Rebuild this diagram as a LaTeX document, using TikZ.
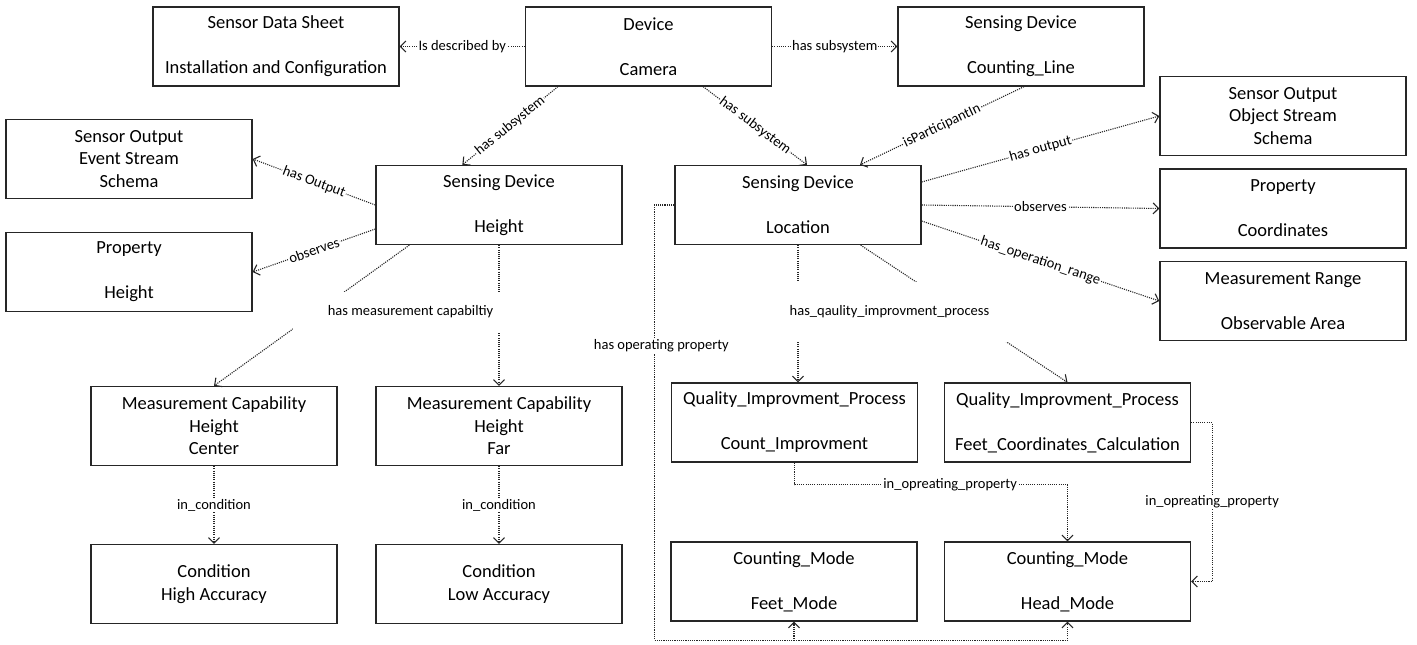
\documentclass[tikz,border=0pt]{standalone}
\usepackage{fontspec}
\setmainfont{Carlito}
\usetikzlibrary{arrows.meta}
\begin{document}
\begin{tikzpicture}[x=1pt,y=-1pt,
  box/.style={draw=black!85, line width=1.3pt, minimum width=246pt, minimum height=79pt, align=center, inner sep=0pt, font=\fontsize{18.5}{22.5}\selectfont},
  conn/.style={draw=black!85, line width=1.1pt, dash pattern=on 1.1pt off 1.1pt, -{Straight Barb[length=5.5pt,width=11pt]}},
  lbl/.style={fill=white, text=black, inner sep=1pt, font=\fontsize{14.5}{17}\selectfont}]
\useasboundingbox (0,0) rectangle (1417,645);
% boxes
\node[box] (sds) at (276,46.5) {Sensor Data Sheet\\[22.5pt]Installation and Configuration};
\node[box] (dev) at (648.5,46.5) {Device\\[22.5pt]Camera};
\node[box] (cline) at (1021,46.5) {Sensing Device\\[22.5pt]Counting\_Line};
\node[box] (evs) at (129,159) {Sensor Output\\Event Stream\\Schema};
\node[box] (proph) at (129,272) {Property\\[22.5pt]Height};
\node[box] (sdh) at (499,205) {Sensing Device\\[22.5pt]Height};
\node[box] (sdl) at (798,205) {Sensing Device\\[22.5pt]Location};
\node[box] (obj) at (1283,116) {Sensor Output\\Object Stream\\Schema};
\node[box] (coord) at (1283,208.5) {Property\\[22.5pt]Coordinates};
\node[box] (range) at (1283,301) {Measurement Range\\[22.5pt]Observable Area};
\node[box] (mcc) at (214,426) {Measurement Capability\\Height\\Center};
\node[box] (mcf) at (499,426) {Measurement Capability\\Height\\Far};
\node[box] (condh) at (214,584) {Condition\\High Accuracy};
\node[box] (condl) at (499,584) {Condition\\Low Accuracy};
\node[box] (qip1) at (794.5,422.5) {Quality\_Improvment\_Process\\[22.5pt]Count\_Improvment};
\node[box] (qip2) at (1067.5,422.5) {Quality\_Improvment\_Process\\[22.5pt]Feet\_Coordinates\_Calculation};
\node[box] (feet) at (794,581.5) {Counting\_Mode\\[22.5pt]Feet\_Mode};
\node[box] (head) at (1067.5,581.5) {Counting\_Mode\\[22.5pt]Head\_Mode};
% connectors
\draw[conn] (dev.west) -- node[lbl]{Is described by} (sds.east);
\draw[conn] (dev.east) -- node[lbl]{has subsystem} (cline.west);
\draw[conn] ([xshift=33pt]dev.south west) -- node[lbl,sloped]{has subsystem} ([xshift=87pt]sdh.north west);
\draw[conn] ([xshift=-69pt]dev.south east) -- node[lbl,sloped]{has subsystem} ([xshift=9pt]sdl.north);
\draw[conn] ([xshift=3pt]cline.south) -- node[lbl,sloped]{isParticipantIn} ([xshift=62pt]sdl.north);
\draw[conn] ([yshift=23pt]sdl.east) -- node[lbl,sloped]{has output} (obj.west);
\draw[conn] (sdl.east) -- node[lbl]{observes} (coord.west);
\draw[conn] ([yshift=-16pt]sdl.east) -- node[lbl,sloped]{has\_operation\_range} (range.west);
\draw[conn] (sdh.west) -- node[lbl,sloped]{has Output} (evs.east);
\draw[conn] ([yshift=-24pt]sdh.west) -- node[lbl,sloped]{observes} (proph.east);
\draw[conn] ([xshift=34pt]sdh.south west) -- (mcc.north);
\draw[conn] (sdh.south) -- (mcf.north);
\node[lbl, minimum width=236pt, minimum height=40pt] (lmc) at (410.5,312) {has measurement capabiltiy};
\draw[conn] (mcc.south) -- node[lbl]{in\_condition} (condh.north);
\draw[conn] (mcf.south) -- node[lbl]{in\_condition} (condl.north);
\draw[conn] (sdl.south) -- (sdl.south |- qip1.north);
\draw[conn] ([xshift=-61pt]sdl.south east) -- (qip2.north);
\node[lbl, minimum width=236pt, minimum height=60pt] (lqip) at (889.5,312) {has\_qaulity\_improvment\_process};
\draw[conn] (qip1.south) -- ++(0,22) -| node[lbl,pos=0.285]{in\_opreating\_property} (head.north);
\draw[conn] (qip2.east) -- ++(21,0) |- node[lbl,pos=0.25]{in\_opreating\_property} (head.east);
\draw[conn] (sdl.west) -- ++(-20,0) |- node[lbl,pos=0.162,xshift=7pt]{has operating property} ([yshift=-18.5pt]feet.south) coordinate (opB) -- (feet.south);
\draw[conn] (opB) -- ([yshift=-18.5pt]head.south) -- (head.south);
\end{tikzpicture}
\end{document}
